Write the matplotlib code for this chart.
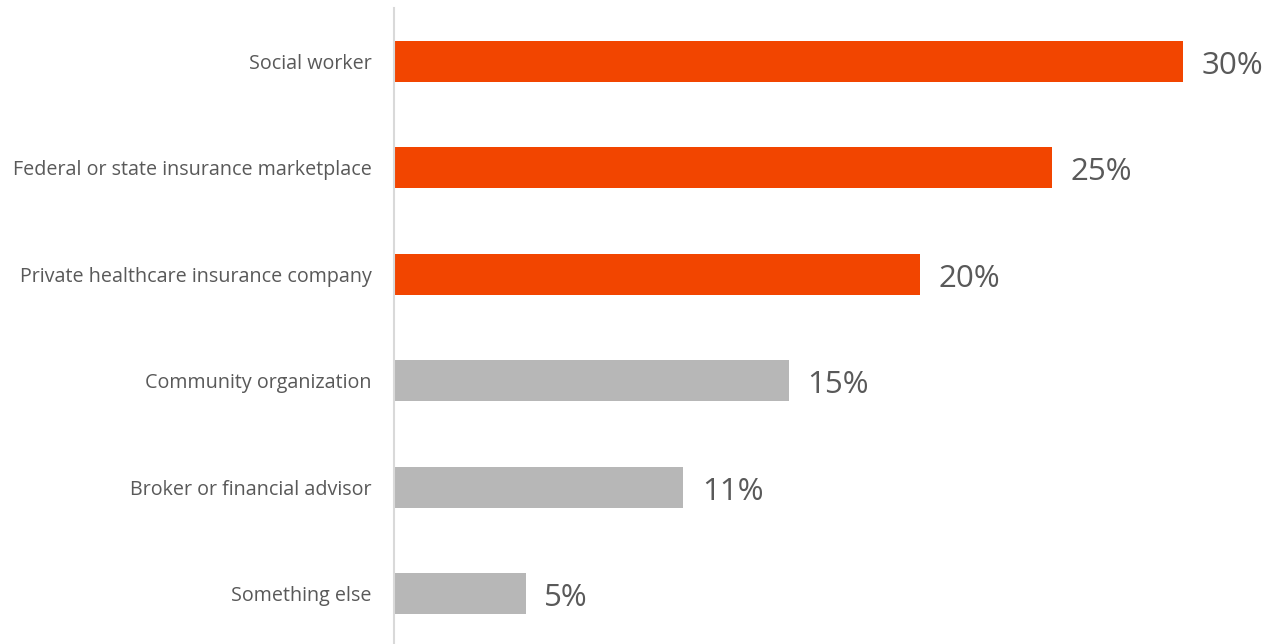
import matplotlib.pyplot as plt

plt.rcParams["font.family"] = ["Open Sans", "DejaVu Sans"]

categories = [
    "Social worker",
    "Federal or state insurance marketplace",
    "Private healthcare insurance company",
    "Community organization",
    "Broker or financial advisor",
    "Something else",
]
values = [30, 25, 20, 15, 11, 5]
highlight = [True, True, True, False, False, False]

ORANGE = "#F24500"
GREY = "#B7B7B7"
TEXT = "#595959"

fig = plt.figure(figsize=(12.64, 6.44), dpi=100)
ax = fig.add_axes([394 / 1264, 0, 1 - 394 / 1264, 1 - 8 / 644])

colors = [ORANGE if h else GREY for h in highlight]
ypos = list(range(len(categories)))
ax.barh(ypos, values, height=0.385, color=colors)

# value labels to the right of each bar
for y, v in zip(ypos, values):
    ax.text(v + 0.72, y + 0.01, f"{v}%", va="center_baseline", ha="left",
            fontsize=22.5, color=TEXT)

ax.set_yticks(ypos)
ax.set_yticklabels(categories, fontsize=14.2, color=TEXT)
ax.tick_params(axis="y", length=0, pad=16)
ax.set_xticks([])
ax.set_ylim(5.47, -0.5)
ax.set_xlim(0, (1264 - 394) / 26.3)

for side in ["top", "right", "bottom"]:
    ax.spines[side].set_visible(False)
ax.spines["left"].set_color("#D9D9D9")
ax.spines["left"].set_linewidth(1.5)

fig.savefig("out.png", dpi=100)
